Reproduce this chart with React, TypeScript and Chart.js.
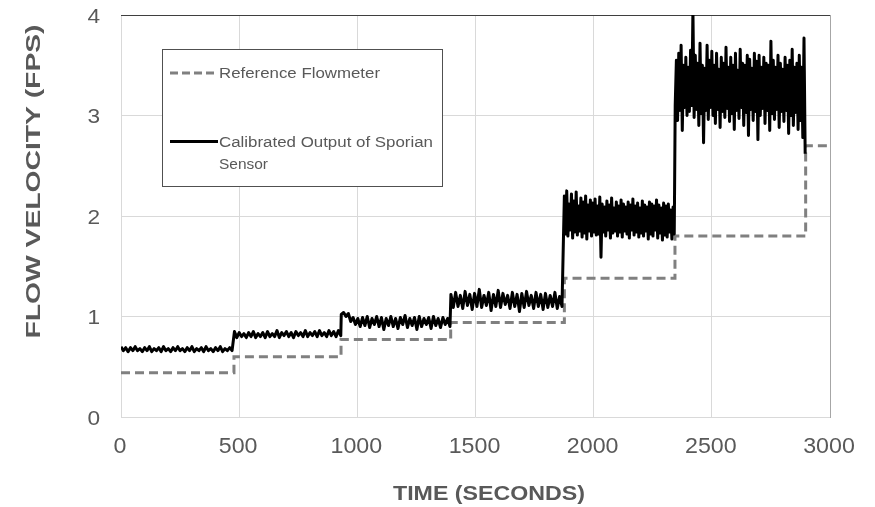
import React, { useEffect, useRef } from 'react';
import { Chart, registerables } from 'chart.js';

Chart.register(...registerables);

// ---- axis ticks ----
const X_TICKS = [0, 500, 1000, 1500, 2000, 2500, 3000];
const Y_TICKS = [0, 1, 2, 3, 4];

// ---- reference flowmeter (step levels, value holds until the next time) ----
const REF_TIMES = [0, 478, 931, 1395, 1876, 2344, 2897, 3000];
const REF_VALUES = [0.44, 0.6, 0.77, 0.94, 1.38, 1.8, 2.7, 2.7];

// ---- calibrated Sporian sensor, sampled per plateau ----
const SENSOR_STARTS = [0, 480, 932, 1396, 1876, 2345];
const SENSOR_STEPS = [10, 10, 10, 10, 5, 5];

const sensorLevel1 = [
  0.7, 0.66, 0.69, 0.65, 0.69, 0.66, 0.7, 0.66, 0.68, 0.65,
  0.69, 0.66, 0.7, 0.65, 0.68, 0.66, 0.69, 0.65, 0.7, 0.66,
  0.68, 0.65, 0.69, 0.66, 0.7, 0.66, 0.68, 0.65, 0.69, 0.66,
  0.7, 0.65, 0.68, 0.66, 0.69, 0.65, 0.7, 0.66, 0.68, 0.65,
  0.69, 0.66, 0.7, 0.65, 0.68, 0.66, 0.69, 0.66,
];
const sensorLevel2 = [
  0.85, 0.79, 0.84, 0.8, 0.83, 0.79, 0.84, 0.8, 0.85, 0.79,
  0.83, 0.8, 0.84, 0.79, 0.85, 0.8, 0.83, 0.8, 0.86, 0.79,
  0.84, 0.81, 0.85, 0.8, 0.84, 0.79, 0.85, 0.81, 0.84, 0.8,
  0.86, 0.8, 0.84, 0.81, 0.85, 0.8, 0.86, 0.81, 0.84, 0.8,
  0.86, 0.81, 0.85, 0.8, 0.86, 0.81,
];
const sensorLevel3 = [
  1.02, 1.04, 1.0, 1.03, 0.95, 0.99, 0.92, 0.98, 0.9, 0.99,
  0.91, 1.0, 0.89, 0.98, 0.92, 1.0, 0.9, 0.99, 0.87, 0.98,
  0.91, 1.0, 0.9, 0.98, 0.88, 0.99, 0.92, 1.01, 0.89, 0.98,
  0.91, 0.99, 0.87, 1.0, 0.9, 0.98, 0.92, 0.99, 0.88, 1.0,
  0.91, 0.98, 0.89, 0.99, 0.92, 0.98, 0.9,
];
const sensorLevel4 = [
  1.22, 1.09, 1.24, 1.1, 1.21, 1.08, 1.25, 1.11, 1.22, 1.07,
  1.23, 1.1, 1.27, 1.09, 1.21, 1.11, 1.24, 1.06, 1.22, 1.1,
  1.26, 1.09, 1.23, 1.12, 1.21, 1.08, 1.24, 1.1, 1.22, 1.05,
  1.23, 1.09, 1.25, 1.11, 1.21, 1.08, 1.24, 1.1, 1.22, 1.07,
  1.23, 1.09, 1.21, 1.1, 1.24, 1.08, 1.2, 1.1,
];
const sensorLevel5 = [
  2.2, 1.82, 2.25, 1.8, 2.12, 1.86, 2.22, 1.78, 2.15, 1.84, 2.24, 1.81, 2.1, 1.85, 2.18, 1.79,
  2.14, 1.83, 2.2, 1.77, 2.11, 1.85, 2.16, 1.8, 2.13, 1.84, 2.17, 1.81, 2.1, 1.82, 2.19, 1.59,
  2.12, 1.84, 2.09, 1.8, 2.15, 1.86, 2.11, 1.78, 2.18, 1.83, 2.08, 1.85, 2.14, 1.8, 2.1, 1.84,
  2.16, 1.79, 2.12, 1.85, 2.09, 1.82, 2.14, 1.78, 2.11, 1.86, 2.17, 1.81, 2.1, 1.84, 2.13, 1.79,
  2.08, 1.83, 2.15, 1.8, 2.11, 1.85, 2.09, 1.77, 2.14, 1.82, 2.12, 1.8, 2.1, 1.86, 2.16, 1.78,
  2.11, 1.83, 2.08, 1.76, 2.13, 1.81, 2.1, 1.79, 2.12, 1.84, 2.06, 1.77, 2.09, 1.82,
];
const sensorLevel6 = [
  3.1, 3.55, 2.95, 3.62, 3.05, 3.7, 2.85, 3.5, 3.08, 3.58, 3.0, 3.48, 3.04, 3.65, 3.1, 4.05,
  2.98, 3.6, 3.06, 3.52, 2.9, 3.72, 3.02, 3.5, 2.73, 3.47, 3.05, 3.7, 2.96, 3.55, 3.08, 3.64,
  3.0, 3.5, 2.92, 3.62, 3.06, 3.46, 2.88, 3.58, 3.04, 3.52, 2.98, 3.68, 3.07, 3.48, 2.94, 3.58,
  3.02, 3.5, 2.86, 3.62, 3.05, 3.45, 2.97, 3.66, 3.08, 3.52, 2.9, 3.5, 3.03, 3.6, 2.8, 3.56,
  3.06, 3.47, 2.95, 3.62, 3.04, 3.54, 2.76, 3.6, 3.0, 3.48, 3.07, 3.58, 2.92, 3.52, 3.05, 3.5,
  2.85, 3.74, 3.02, 3.55, 2.96, 3.48, 3.06, 3.6, 2.88, 3.52, 3.04, 3.46, 2.94, 3.58, 3.05, 3.5,
  2.82, 3.55, 3.0, 3.66, 2.9, 3.48, 3.03, 3.52, 2.86, 3.6, 2.95, 3.48, 2.78, 3.77, 2.62,
];
const SENSOR_LEVELS = [sensorLevel1, sensorLevel2, sensorLevel3, sensorLevel4, sensorLevel5, sensorLevel6];

// ---- text ----
const X_TITLE = 'TIME (SECONDS)';
const Y_TITLE = 'FLOW VELOCITY (FPS)';
const LEGEND_REF = 'Reference Flowmeter';
const LEGEND_SENSOR_1 = 'Calibrated Output of Sporian';
const LEGEND_SENSOR_2 = 'Sensor';

const FONT = '"Liberation Sans", Arial, sans-serif';
const TEXT_COLOR = '#595959';

type TextOpts = {
  size: number;
  bold?: boolean;
  color?: string;
  align?: CanvasTextAlign;
  sx?: number;
  width?: number;
  rotate?: boolean;
};

// y is the vertical center of capital letters
function drawText(ctx: CanvasRenderingContext2D, text: string, x: number, y: number, o: TextOpts) {
  ctx.save();
  ctx.font = `${o.bold ? 'bold ' : ''}${o.size}px ${FONT}`;
  ctx.fillStyle = o.color || TEXT_COLOR;
  ctx.textAlign = o.align || 'left';
  ctx.textBaseline = 'alphabetic';
  let sx = o.sx || 1;
  if (o.width) sx = o.width / ctx.measureText(text).width;
  ctx.translate(x, y);
  if (o.rotate) ctx.rotate(-Math.PI / 2);
  ctx.scale(sx, 1);
  ctx.fillText(text, 0, (o.size * 0.716) / 2);
  ctx.restore();
}

const decorPlugin = {
  id: 'decor',
  beforeDatasetsDraw(chart: any) {
    const { ctx, chartArea } = chart;
    ctx.save();
    ctx.lineWidth = 1;
    ctx.strokeStyle = '#3f3f3f';
    ctx.beginPath();
    ctx.moveTo(chartArea.left, Math.round(chartArea.top) + 0.5);
    ctx.lineTo(chartArea.right + 1, Math.round(chartArea.top) + 0.5);
    ctx.stroke();
    ctx.strokeStyle = '#a6a6a6';
    ctx.beginPath();
    ctx.moveTo(Math.round(chartArea.right) + 0.5, chartArea.top);
    ctx.lineTo(Math.round(chartArea.right) + 0.5, chartArea.bottom + 1);
    ctx.stroke();
    ctx.restore();
  },
  afterDraw(chart: any) {
    const { ctx } = chart;
    const xs = chart.scales.x;
    const ys = chart.scales.y;

    // tick labels
    Y_TICKS.forEach((v) => {
      drawText(ctx, String(v), 100, ys.getPixelForValue(v), { size: 21, align: 'right', sx: 1.08 });
    });
    X_TICKS.forEach((v) => {
      drawText(ctx, String(v), xs.getPixelForValue(v) - 1, 445.3, { size: 21.5, align: 'center', sx: 1.08 });
    });

    // axis titles
    drawText(ctx, X_TITLE, 489, 493, { size: 19.5, bold: true, align: 'center', width: 192 });
    drawText(ctx, Y_TITLE, 32.5, 181.5, { size: 21, bold: true, align: 'center', width: 314, rotate: true });

    // legend box
    ctx.save();
    ctx.fillStyle = '#ffffff';
    ctx.fillRect(162, 49, 280, 137);
    ctx.strokeStyle = '#505050';
    ctx.lineWidth = 1;
    ctx.strokeRect(162.5, 49.5, 280, 137);

    ctx.lineWidth = 3;
    ctx.strokeStyle = '#808080';
    ctx.setLineDash([8, 4]);
    ctx.beginPath();
    ctx.moveTo(170, 73);
    ctx.lineTo(218, 73);
    ctx.stroke();

    ctx.setLineDash([]);
    ctx.strokeStyle = '#000000';
    ctx.beginPath();
    ctx.moveTo(170, 141.5);
    ctx.lineTo(218, 141.5);
    ctx.stroke();
    ctx.restore();

    drawText(ctx, LEGEND_REF, 219, 72.8, { size: 15.5, width: 161 });
    drawText(ctx, LEGEND_SENSOR_1, 219, 141.7, { size: 15.5, width: 214 });
    drawText(ctx, LEGEND_SENSOR_2, 219, 163.8, { size: 15.5, width: 49 });
  },
};

export default function App() {
  const ref = useRef<HTMLCanvasElement | null>(null);

  useEffect(() => {
    if (!ref.current) return;

    const sensorData: { x: number; y: number }[] = [];
    SENSOR_LEVELS.forEach((vals, i) => {
      vals.forEach((v, j) => {
        sensorData.push({ x: SENSOR_STARTS[i] + j * SENSOR_STEPS[i], y: v });
      });
    });
    const refData = REF_TIMES.map((t, i) => ({ x: t, y: REF_VALUES[i] }));

    const chart = new Chart(ref.current, {
      type: 'line',
      data: {
        datasets: [
          {
            label: 'Calibrated Output of Sporian Sensor',
            data: sensorData,
            borderColor: '#000000',
            borderWidth: 3,
            pointRadius: 0,
            borderJoinStyle: 'round',
            tension: 0,
            order: 0,
          },
          {
            label: 'Reference Flowmeter',
            data: refData,
            borderColor: '#808080',
            borderWidth: 3,
            borderDash: [9, 5],
            pointRadius: 0,
            stepped: 'before' as any,
            order: 1,
          },
        ],
      },
      options: {
        animation: false,
        responsive: false,
        maintainAspectRatio: false,
        layout: { padding: { top: 15, right: 45, left: 0, bottom: 0 } },
        plugins: {
          legend: { display: false },
          tooltip: { enabled: false },
          title: { display: false },
        },
        scales: {
          x: {
            type: 'linear',
            min: 0,
            max: 3000,
            ticks: { display: false, stepSize: 500 },
            grid: { color: '#d9d9d9', lineWidth: 1, drawTicks: false },
            border: { display: false },
            afterFit: (s: any) => {
              s.height = 90;
            },
          },
          y: {
            type: 'linear',
            min: 0,
            max: 4,
            ticks: { display: false, stepSize: 1 },
            grid: { color: '#d9d9d9', lineWidth: 1, drawTicks: false },
            border: { display: false },
            afterFit: (s: any) => {
              s.width = 121;
            },
          },
        },
      },
      plugins: [decorPlugin],
    });

    return () => chart.destroy();
  }, []);

  return (
    <div style={{ position: 'absolute', left: 0, top: 0, width: 875, height: 507, background: '#fff' }}>
      <canvas ref={ref} width={875} height={507} />
    </div>
  );
}
